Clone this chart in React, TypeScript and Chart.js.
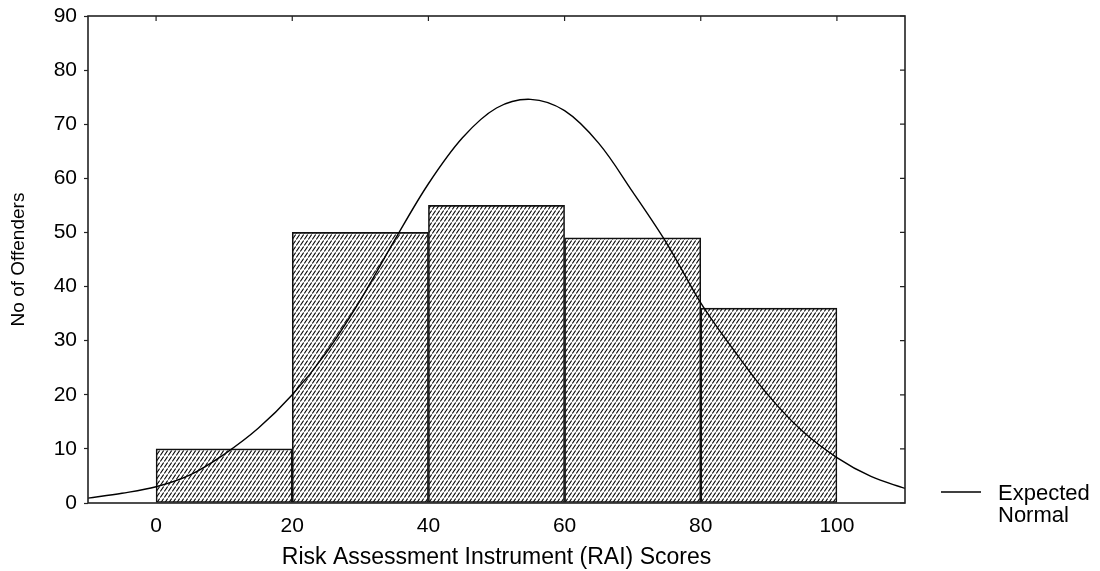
import React, { useEffect, useRef } from 'react';
import { Chart, registerables } from 'chart.js';

Chart.register(...registerables);

// ---- data ----
const BIN_CENTERS = [10, 30, 50, 70, 90];
const BIN_COUNTS = [10, 50, 55, 49, 36];

const CURVE_X = [-10, -5, 0, 5, 10, 15, 20, 25, 30, 35, 40, 45, 50, 55, 60, 65, 70, 75, 80, 85, 90, 95, 100, 105, 110];
const CURVE_Y = [0.9, 1.8, 3.0, 5.2, 9.0, 13.8, 20.0, 27.8, 37.5, 48.5, 59.0, 67.5, 73.0, 74.6, 72.5, 66.5, 57.5, 48.0, 37.0, 28.0, 19.8, 13.2, 8.4, 4.9, 2.7];

const X_TICKS = [0, 20, 40, 60, 80, 100];
const Y_TICKS = [0, 10, 20, 30, 40, 50, 60, 70, 80, 90];
const X_MIN = -10;
const X_MAX = 110;
const Y_MIN = 0;
const Y_MAX = 90;

const X_TITLE = 'Risk Assessment Instrument (RAI) Scores';
const Y_TITLE = 'No of Offenders';
const LEGEND_LINES = ['Expected', 'Normal'];

const FONT = '"Liberation Sans", Arial, sans-serif';

function makeHatch(): CanvasPattern | string {
  const c = document.createElement('canvas');
  c.width = 4;
  c.height = 6;
  const g = c.getContext('2d');
  if (!g) return '#888';
  g.fillStyle = '#ffffff';
  g.fillRect(0, 0, 4, 6);
  g.strokeStyle = '#000000';
  g.lineWidth = 1.15;
  g.beginPath();
  g.moveTo(0.3, 5.5);
  g.lineTo(3.7, 0.5);
  g.stroke();
  const p = g.createPattern(c, 'repeat');
  return p || '#888';
}

const framePlugin = {
  id: 'frameAndLegend',
  afterDatasetsDraw(chart: any) {
    const { ctx, chartArea, scales } = chart;
    const { left, right, top, bottom } = chartArea;
    ctx.save();
    ctx.strokeStyle = '#222';
    ctx.lineWidth = 1.6;
    ctx.strokeRect(left, top, right - left, bottom - top);
    ctx.lineWidth = 1.2;
    ctx.beginPath();
    scales.y.ticks.forEach((t: any) => {
      const py = scales.y.getPixelForValue(t.value);
      ctx.moveTo(right - 5, py);
      ctx.lineTo(right, py);
    });
    scales.x.ticks.forEach((t: any) => {
      const px = scales.x.getPixelForValue(t.value);
      ctx.moveTo(px, top);
      ctx.lineTo(px, top + 5);
    });
    ctx.stroke();

    // legend
    ctx.strokeStyle = '#000';
    ctx.lineWidth = 1.3;
    ctx.beginPath();
    ctx.moveTo(941, 492);
    ctx.lineTo(981, 492);
    ctx.stroke();
    ctx.fillStyle = '#000';
    ctx.font = `22px ${FONT}`;
    ctx.textBaseline = 'middle';
    ctx.textAlign = 'left';
    ctx.fillText(LEGEND_LINES[0], 998, 494);
    ctx.fillText(LEGEND_LINES[1], 998, 516);
    ctx.restore();
  },
};

export default function App() {
  const ref = useRef<HTMLCanvasElement | null>(null);

  useEffect(() => {
    if (!ref.current) return;
    const hatch = makeHatch();
    const chart = new Chart(ref.current, {
      data: {
        datasets: [
          {
            type: 'line',
            label: 'Expected Normal',
            data: CURVE_X.map((x, i) => ({ x, y: CURVE_Y[i] })),
            borderColor: '#000',
            borderWidth: 1.4,
            pointRadius: 0,
            fill: false,
            tension: 0.35,
            order: 0,
          } as any,
          {
            type: 'bar',
            label: 'No of Offenders',
            data: BIN_CENTERS.map((x, i) => ({ x, y: BIN_COUNTS[i] })),
            backgroundColor: hatch as any,
            borderColor: '#111',
            borderWidth: 1.6,
            borderSkipped: false,
            barPercentage: 1,
            categoryPercentage: 1,
            order: 1,
          } as any,
        ],
      },
      options: {
        responsive: false,
        animation: false,
        layout: { padding: { left: 0, right: 195, top: 16, bottom: 0 } },
        plugins: {
          legend: { display: false },
          tooltip: { enabled: false },
        },
        scales: {
          x: {
            type: 'linear',
            min: X_MIN,
            max: X_MAX,
            offset: false,
            afterBuildTicks: (scale: any) => {
              scale.ticks = X_TICKS.map((v) => ({ value: v }));
            },
            afterFit: (scale: any) => {
              scale.height = 68;
              scale.paddingLeft = 0;
              scale.paddingRight = 0;
            },
            grid: { display: true, drawOnChartArea: false, drawTicks: false },
            border: { display: false },
            ticks: {
              color: '#000',
              font: { family: FONT, size: 21 },
              padding: 11,
              maxRotation: 0,
            },
            title: {
              display: true,
              text: X_TITLE,
              color: '#000',
              font: { family: FONT, size: 23 },
              padding: { top: 0, bottom: 0 },
            },
          },
          y: {
            type: 'linear',
            min: Y_MIN,
            max: Y_MAX,
            afterBuildTicks: (scale: any) => {
              scale.ticks = Y_TICKS.map((v) => ({ value: v }));
            },
            afterFit: (scale: any) => {
              scale.width = 88;
              scale.paddingTop = 0;
              scale.paddingBottom = 0;
            },
            grid: {
              display: true,
              drawOnChartArea: false,
              drawTicks: true,
              tickLength: 4,
              color: '#222',
              tickWidth: 1.2,
            },
            border: { display: false },
            ticks: {
              color: '#000',
              font: { family: FONT, size: 21 },
              padding: 7,
            },
            title: {
              display: true,
              text: Y_TITLE,
              color: '#000',
              font: { family: FONT, size: 19 },
              padding: { top: 7, bottom: 0 },
            },
          },
        },
      } as any,
      plugins: [framePlugin],
    } as any);
    return () => chart.destroy();
  }, []);

  return (
    <div style={{ position: 'fixed', left: 0, top: 0, width: 1100, height: 571, background: '#fff' }}>
      <canvas ref={ref} width={1100} height={571} style={{ display: 'block' }} />
    </div>
  );
}
